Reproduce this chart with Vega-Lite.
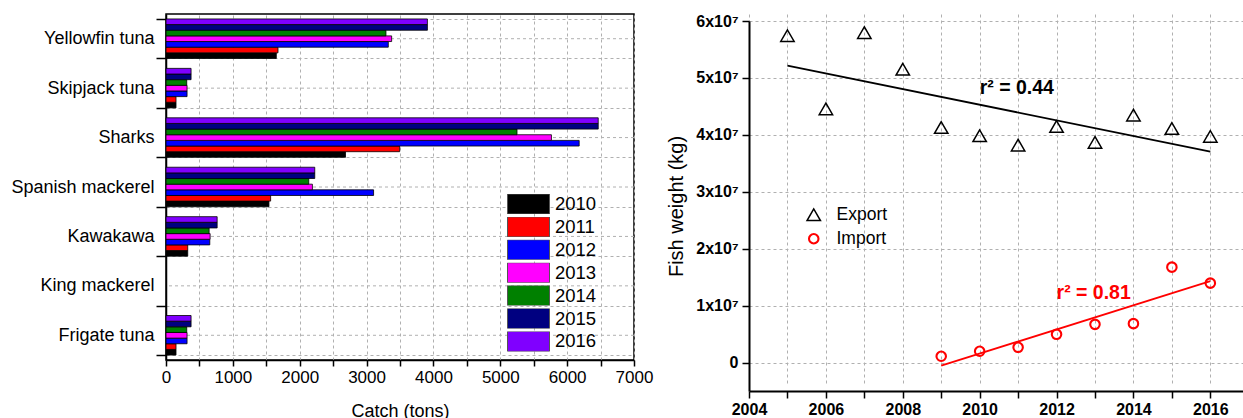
{
  "$schema": "https://vega.github.io/schema/vega-lite/v6.json",
  "padding": {"left": 10, "top": 4, "right": 0, "bottom": 0},
  "spacing": 12,
  "align": "none",
  "resolve": {"scale": {"color": "independent", "shape": "independent", "size": "independent", "strokeWidth": "independent"}, "legend": {"color": "independent", "shape": "independent", "size": "independent", "strokeWidth": "independent"}},
  "config": {
    "font": "Liberation Sans",
    "view": {"stroke": "black", "strokeWidth": 1.5},
    "axis": {
      "domainColor": "black", "tickColor": "black", "labelColor": "black", "titleColor": "black",
      "gridColor": "#b0b0b0", "gridDash": [3, 3], "gridWidth": 1, "labelFlush": false,
      "labelFont": "Liberation Sans", "titleFont": "Liberation Sans", "titleFontWeight": "normal"
    }
  },
  "datasets": {
    "species": [
      {"species": "Yellowfin tuna"}, {"species": "Skipjack tuna"}, {"species": "Sharks"},
      {"species": "Spanish mackerel"}, {"species": "Kawakawa"}, {"species": "King mackerel"}, {"species": "Frigate tuna"}
    ],
    "catch": [
      {"species": "Yellowfin tuna", "year": "2010", "catch": 1650},
      {"species": "Yellowfin tuna", "year": "2011", "catch": 1675},
      {"species": "Yellowfin tuna", "year": "2012", "catch": 3325},
      {"species": "Yellowfin tuna", "year": "2013", "catch": 3375},
      {"species": "Yellowfin tuna", "year": "2014", "catch": 3290},
      {"species": "Yellowfin tuna", "year": "2015", "catch": 3910},
      {"species": "Yellowfin tuna", "year": "2016", "catch": 3910},
      {"species": "Skipjack tuna", "year": "2010", "catch": 150},
      {"species": "Skipjack tuna", "year": "2011", "catch": 150},
      {"species": "Skipjack tuna", "year": "2012", "catch": 315},
      {"species": "Skipjack tuna", "year": "2013", "catch": 315},
      {"species": "Skipjack tuna", "year": "2014", "catch": 310},
      {"species": "Skipjack tuna", "year": "2015", "catch": 375},
      {"species": "Skipjack tuna", "year": "2016", "catch": 375},
      {"species": "Sharks", "year": "2010", "catch": 2685},
      {"species": "Sharks", "year": "2011", "catch": 3495},
      {"species": "Sharks", "year": "2012", "catch": 6180},
      {"species": "Sharks", "year": "2013", "catch": 5765},
      {"species": "Sharks", "year": "2014", "catch": 5250},
      {"species": "Sharks", "year": "2015", "catch": 6465},
      {"species": "Sharks", "year": "2016", "catch": 6465},
      {"species": "Spanish mackerel", "year": "2010", "catch": 1540},
      {"species": "Spanish mackerel", "year": "2011", "catch": 1565},
      {"species": "Spanish mackerel", "year": "2012", "catch": 3105},
      {"species": "Spanish mackerel", "year": "2013", "catch": 2190},
      {"species": "Spanish mackerel", "year": "2014", "catch": 2135},
      {"species": "Spanish mackerel", "year": "2015", "catch": 2225},
      {"species": "Spanish mackerel", "year": "2016", "catch": 2225},
      {"species": "Kawakawa", "year": "2010", "catch": 325},
      {"species": "Kawakawa", "year": "2011", "catch": 325},
      {"species": "Kawakawa", "year": "2012", "catch": 655},
      {"species": "Kawakawa", "year": "2013", "catch": 660},
      {"species": "Kawakawa", "year": "2014", "catch": 645},
      {"species": "Kawakawa", "year": "2015", "catch": 765},
      {"species": "Kawakawa", "year": "2016", "catch": 765},
      {"species": "Frigate tuna", "year": "2010", "catch": 150},
      {"species": "Frigate tuna", "year": "2011", "catch": 150},
      {"species": "Frigate tuna", "year": "2012", "catch": 315},
      {"species": "Frigate tuna", "year": "2013", "catch": 315},
      {"species": "Frigate tuna", "year": "2014", "catch": 310},
      {"species": "Frigate tuna", "year": "2015", "catch": 375},
      {"species": "Frigate tuna", "year": "2016", "catch": 375}
    ],
    "trade": [
      {"series": "Export", "year": 2005, "value": 57420000},
      {"series": "Export", "year": 2006, "value": 44570000},
      {"series": "Export", "year": 2007, "value": 57950000},
      {"series": "Export", "year": 2008, "value": 51530000},
      {"series": "Export", "year": 2009, "value": 41300000},
      {"series": "Export", "year": 2010, "value": 39840000},
      {"series": "Export", "year": 2011, "value": 38200000},
      {"series": "Export", "year": 2012, "value": 41470000},
      {"series": "Export", "year": 2013, "value": 38670000},
      {"series": "Export", "year": 2014, "value": 43470000},
      {"series": "Export", "year": 2015, "value": 41120000},
      {"series": "Export", "year": 2016, "value": 39720000},
      {"series": "Import", "year": 2009, "value": 1100000},
      {"series": "Import", "year": 2010, "value": 1980000},
      {"series": "Import", "year": 2011, "value": 2680000},
      {"series": "Import", "year": 2012, "value": 4960000},
      {"series": "Import", "year": 2013, "value": 6710000},
      {"series": "Import", "year": 2014, "value": 6830000},
      {"series": "Import", "year": 2015, "value": 16760000},
      {"series": "Import", "year": 2016, "value": 13950000}
    ]
  },
  "hconcat": [
    {
      "width": 468,
      "height": 346,
      "layer": [
        {
          "data": {"name": "species"},
          "mark": {"type": "rule", "color": "#b0b0b0", "strokeDash": [3, 3], "strokeWidth": 1},
          "encoding": {
            "y": {
              "field": "species", "type": "nominal",
              "sort": ["Yellowfin tuna", "Skipjack tuna", "Sharks", "Spanish mackerel", "Kawakawa", "King mackerel", "Frigate tuna"],
              "scale": {"domain": ["Yellowfin tuna", "Skipjack tuna", "Sharks", "Spanish mackerel", "Kawakawa", "King mackerel", "Frigate tuna"], "paddingInner": 0.2, "paddingOuter": 0.1},
              "axis": {"title": null, "tickBand": "extent", "grid": true, "labelFontSize": 18, "tickSize": 10, "labelPadding": 2, "domainWidth": 1.5, "tickWidth": 1.5}
            }
          }
        },
        {
          "data": {"name": "catch"},
          "mark": {"type": "bar", "stroke": "black", "strokeWidth": 0.8},
          "encoding": {
            "y": {
              "field": "species", "type": "nominal",
              "sort": ["Yellowfin tuna", "Skipjack tuna", "Sharks", "Spanish mackerel", "Kawakawa", "King mackerel", "Frigate tuna"],
              "scale": {"domain": ["Yellowfin tuna", "Skipjack tuna", "Sharks", "Spanish mackerel", "Kawakawa", "King mackerel", "Frigate tuna"], "paddingInner": 0.2, "paddingOuter": 0.1}
            },
            "yOffset": {"field": "year", "type": "nominal", "sort": "descending", "scale": {"paddingInner": 0, "paddingOuter": 0}},
            "x": {
              "field": "catch", "type": "quantitative",
              "scale": {"domain": [0, 7000], "nice": false},
              "axis": {
                "title": "Catch (tons)", "titleFontSize": 18, "titlePadding": 17,
                "values": [0, 500, 1000, 1500, 2000, 2500, 3000, 3500, 4000, 4500, 5000, 5500, 6000, 6500, 7000],
                "format": "d",
                "labelExpr": "datum.value % 1000 == 0 ? datum.label : ''",
                "labelFontSize": 17, "tickSize": 6, "labelPadding": 3, "grid": true, "domainWidth": 1.5, "tickWidth": 1.5, "labelOverlap": false
              }
            },
            "color": {
              "field": "year", "type": "nominal",
              "scale": {"domain": ["2010", "2011", "2012", "2013", "2014", "2015", "2016"], "range": ["#000000", "#ff0000", "#0000ff", "#ff00ff", "#008000", "#000080", "#8000ff"]},
              "legend": {
                "title": null, "orient": "none", "legendX": 341, "legendY": 180,
                "symbolType": "M-1,-0.476H1V0.476H-1Z", "symbolSize": 1764, "symbolOpacity": 1,
                "clipHeight": 20, "rowPadding": 2.9, "labelFontSize": 18.5, "labelOffset": 5,
                "symbolStrokeColor": "#555", "symbolStrokeWidth": 1, "padding": 0, "labelColor": "black"
              }
            }
          }
        }
      ]
    },
    {
      "width": 494,
      "height": 377,
      "view": {"stroke": null},
      "layer": [
        {
          "data": {"name": "trade"},
          "mark": {"type": "point", "filled": false, "opacity": 1},
          "encoding": {
            "x": {
              "field": "year", "type": "quantitative",
              "scale": {"domain": [2004, 2016.85], "nice": false, "zero": false},
              "axis": {
                "title": null, "values": [2004, 2005, 2006, 2007, 2008, 2009, 2010, 2011, 2012, 2013, 2014, 2015, 2016],
                "format": "d", "labelExpr": "datum.value % 2 == 0 ? datum.label : ''",
                "labelFontSize": 16, "labelFontWeight": "bold", "grid": true, "tickSize": 7, "tickWidth": 1.5, "domainWidth": 2, "labelPadding": 3, "labelOverlap": false
              }
            },
            "y": {
              "field": "value", "type": "quantitative",
              "scale": {"domain": [-5000000, 60000000], "range": [377, 7], "nice": false, "zero": false},
              "axis": {
                "title": "Fish weight (kg)", "titleFontSize": 20, "titlePadding": 9,
                "values": [0, 5000000, 10000000, 15000000, 20000000, 25000000, 30000000, 35000000, 40000000, 45000000, 50000000, 55000000, 60000000],
                "labelExpr": "datum.value == 0 ? '0' : (datum.value % 10000000 == 0 ? (datum.value / 10000000) + 'x10⁷' : '')",
                "labelFontSize": 16, "labelFontWeight": "bold", "grid": true, "tickSize": 7, "tickWidth": 1.5, "domainWidth": 2, "labelPadding": 4, "labelOverlap": false
              }
            },
            "shape": {
              "field": "series", "type": "nominal",
              "scale": {"domain": ["Export", "Import"], "range": ["triangle-up", "circle"]},
              "legend": {"title": null, "orient": "none", "legendX": 56, "legendY": 192, "labelFontSize": 17.5, "labelOffset": 14, "symbolOpacity": 1, "rowPadding": 5, "padding": 0, "labelColor": "black"}
            },
            "color": {
              "field": "series", "type": "nominal",
              "scale": {"domain": ["Export", "Import"], "range": ["black", "red"]},
              "legend": {"title": null, "orient": "none", "legendX": 56, "legendY": 192, "labelFontSize": 17.5, "labelOffset": 14, "symbolOpacity": 1, "rowPadding": 5, "padding": 0, "labelColor": "black"}
            },
            "size": {
              "field": "series", "type": "nominal",
              "scale": {"domain": ["Export", "Import"], "range": [180, 90]},
              "legend": {"title": null, "orient": "none", "legendX": 56, "legendY": 192, "labelFontSize": 17.5, "labelOffset": 14, "symbolOpacity": 1, "rowPadding": 5, "padding": 0, "labelColor": "black"}
            },
            "strokeWidth": {
              "field": "series", "type": "nominal",
              "scale": {"domain": ["Export", "Import"], "range": [1.5, 2.1]},
              "legend": {"title": null, "orient": "none", "legendX": 56, "legendY": 192, "labelFontSize": 17.5, "labelOffset": 14, "symbolOpacity": 1, "rowPadding": 5, "padding": 0, "labelColor": "black"}
            }
          }
        },
        {
          "mark": {"type": "rule", "color": "black", "strokeWidth": 2},
          "encoding": {"y": {"datum": 60000000}}
        },
        {
          "data": {"name": "trade"},
          "transform": [{"filter": "datum.series == 'Export'"}, {"regression": "value", "on": "year"}],
          "mark": {"type": "line", "color": "black", "strokeWidth": 1.8},
          "encoding": {"x": {"field": "year", "type": "quantitative"}, "y": {"field": "value", "type": "quantitative"}}
        },
        {
          "data": {"name": "trade"},
          "transform": [{"filter": "datum.series == 'Import'"}, {"regression": "value", "on": "year"}],
          "mark": {"type": "line", "color": "red", "strokeWidth": 1.8},
          "encoding": {"x": {"field": "year", "type": "quantitative"}, "y": {"field": "value", "type": "quantitative"}}
        },
        {
          "data": {"values": [{"year": 2010, "value": 48300000, "label": "r² = 0.44"}]},
          "mark": {"type": "text", "align": "left", "baseline": "middle", "fontSize": 19.5, "fontWeight": "bold", "color": "black"},
          "encoding": {"x": {"field": "year", "type": "quantitative"}, "y": {"field": "value", "type": "quantitative"}, "text": {"field": "label"}}
        },
        {
          "data": {"values": [{"year": 2012, "value": 12150000, "label": "r² = 0.81"}]},
          "mark": {"type": "text", "align": "left", "baseline": "middle", "fontSize": 19.5, "fontWeight": "bold", "color": "red"},
          "encoding": {"x": {"field": "year", "type": "quantitative"}, "y": {"field": "value", "type": "quantitative"}, "text": {"field": "label"}}
        }
      ]
    }
  ]
}
